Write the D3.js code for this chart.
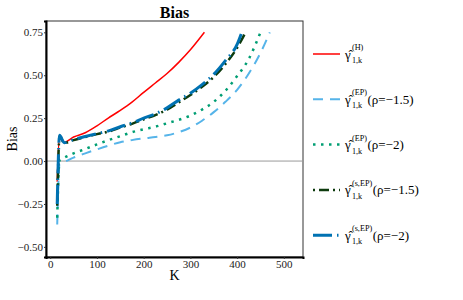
<!DOCTYPE html>
<html><head><meta charset="utf-8">
<script src="https://cdn.jsdelivr.net/npm/d3@7"></script>
<style>body{margin:0;background:#fff}</style>
</head><body>
<svg id="c" width="463" height="300"></svg>
<script>
// ---- data ----
const kH      = [15, 20, 30, 50, 75, 100, 125, 150, 175, 200, 225, 250, 275, 300, 330];
const biasH   = [-0.12, 0.15, 0.11, 0.14, 0.165, 0.205, 0.252, 0.295, 0.343, 0.40, 0.455, 0.51, 0.575, 0.648, 0.75];

const kEP15    = [15, 20, 30, 50, 75, 100, 125, 150, 175, 200, 225, 250, 275, 300, 325, 350, 375, 400, 425, 450, 470];
const biasEP15 = [-0.37, -0.015, -0.005, 0.02, 0.045, 0.068, 0.09, 0.11, 0.122, 0.132, 0.14, 0.15, 0.168, 0.195, 0.235, 0.285, 0.345, 0.415, 0.51, 0.63, 0.75];

const kEP2    = [15, 20, 30, 50, 75, 100, 125, 150, 175, 200, 225, 250, 275, 300, 325, 350, 375, 400, 425, 450];
const biasEP2 = [-0.33, 0.005, 0.02, 0.045, 0.07, 0.097, 0.122, 0.145, 0.168, 0.185, 0.20, 0.22, 0.24, 0.265, 0.30, 0.345, 0.41, 0.495, 0.595, 0.75];

const kSEP15    = [15, 20, 30, 50, 75, 100, 125, 150, 175, 200, 225, 250, 275, 300, 325, 350, 375, 400, 418];
const biasSEP15 = [-0.26, 0.145, 0.105, 0.122, 0.14, 0.157, 0.172, 0.195, 0.217, 0.243, 0.268, 0.30, 0.342, 0.385, 0.433, 0.49, 0.565, 0.66, 0.75];

const kSEP2    = [15, 20, 30, 50, 75, 100, 125, 150, 175, 200, 225, 250, 275, 300, 325, 350, 375, 400, 410];
const biasSEP2 = [-0.25, 0.15, 0.107, 0.125, 0.143, 0.16, 0.176, 0.20, 0.222, 0.25, 0.275, 0.31, 0.355, 0.395, 0.445, 0.505, 0.585, 0.68, 0.75];

const xTicks = [0, 100, 200, 300, 400, 500];
const yTicks = [-0.5, -0.25, 0, 0.25, 0.5, 0.75];
const legendSup  = ["(H)", "(EP)", "(EP)", "(s,EP)", "(s,EP)"];
const legendRest = ["", "(\u03C1=\u22121.5)", "(\u03C1=\u22122)", "(\u03C1=\u22121.5)", "(\u03C1=\u22122)"];

// ---- layout ----
const svg = d3.select("#c");
const L = 46, R = 303, T = 21, B = 257;
const x = d3.scaleLinear().domain([-9, 541]).range([L, R]);
const y = d3.scaleLinear().domain([-0.559, 0.816]).range([B, T]);
const font = "'Liberation Serif','Times New Roman',serif";

const series = [
  {k: kH,     v: biasH,     color: "#FF0000", w: 1.5, dash: null},
  {k: kEP15,  v: biasEP15,  color: "#56B4E9", w: 2,   dash: "10,7"},
  {k: kEP2,   v: biasEP2,   color: "#009E73", w: 2.5, dash: "2.5,5.5"},
  {k: kSEP15, v: biasSEP15, color: "#0d3b0d", w: 2.5, dash: "2,4,10,4"},
  {k: kSEP2,  v: biasSEP2,  color: "#0072B2", w: 3,   dash: "19,5,1.5,5"}
];

// panel border
svg.append("rect").attr("x", L).attr("y", T).attr("width", R - L).attr("height", B - T)
  .attr("fill", "none").attr("stroke", "#333").attr("stroke-width", 1);

// zero line
svg.append("line").attr("x1", L).attr("x2", R).attr("y1", y(0)).attr("y2", y(0))
  .attr("stroke", "#999").attr("stroke-width", 1);

// axes
const xAxis = svg.append("g").attr("transform", `translate(0,${B})`)
  .call(d3.axisBottom(x).tickValues(xTicks).tickSize(2).tickPadding(1).tickFormat(d3.format("d")));
const yAxis = svg.append("g").attr("transform", `translate(${L},0)`)
  .call(d3.axisLeft(y).tickValues(yTicks).tickSize(2).tickPadding(1).tickFormat(d3.format(".2f")));
[xAxis, yAxis].forEach(a => {
  a.select(".domain").attr("stroke", "#000").attr("stroke-width", 2);
  a.selectAll(".tick line").attr("stroke", "#333");
  a.selectAll(".tick text").attr("font-family", font).attr("font-size", 11).attr("fill", "#222");
});

// lines
const line = d3.line().curve(d3.curveMonotoneX);
series.forEach(s => {
  const pts = s.k.map((k, i) => [x(k), y(s.v[i])]);
  svg.append("path").attr("d", line(pts)).attr("fill", "none")
    .attr("stroke", s.color).attr("stroke-width", s.w)
    .attr("stroke-dasharray", s.dash);
});

// title & labels
svg.append("text").attr("x", (L + R) / 2).attr("y", 18).attr("text-anchor", "middle")
  .attr("font-family", font).attr("font-weight", "bold").attr("font-size", 16).text("Bias");
svg.append("text").attr("x", (L + R) / 2).attr("y", 280).attr("text-anchor", "middle")
  .attr("font-family", font).attr("font-size", 14).text("K");
svg.append("text").attr("transform", `translate(17,${(T + B) / 2}) rotate(-90)`).attr("text-anchor", "middle")
  .attr("font-family", font).attr("font-size", 14).text("Bias");

// legend
series.forEach((s, i) => {
  const ly = 54 + i * 45.3;
  svg.append("line").attr("x1", 313).attr("x2", 340).attr("y1", ly).attr("y2", ly)
    .attr("stroke", s.color).attr("stroke-width", s.w).attr("stroke-dasharray", s.dash);
  const g = svg.append("g").attr("font-family", font);
  const gam = g.append("text").attr("x", 345).attr("y", ly + 4.5).attr("font-size", 13).text("\u03B3\u0302");
  const gx = 345 + gam.node().getComputedTextLength() + 1.2;
  const sup = g.append("text").attr("x", gx).attr("y", ly - 4).attr("font-size", 8.2).text(legendSup[i]);
  const sub = g.append("text").attr("x", gx).attr("y", ly + 9).attr("font-size", 8.2).text("1,k");
  const w = Math.max(sup.node().getComputedTextLength(), sub.node().getComputedTextLength());
  g.append("text").attr("x", gx + w + 0.5).attr("y", ly + 4.5).attr("font-size", 13).text(legendRest[i]);
});
</script>
</body></html>
